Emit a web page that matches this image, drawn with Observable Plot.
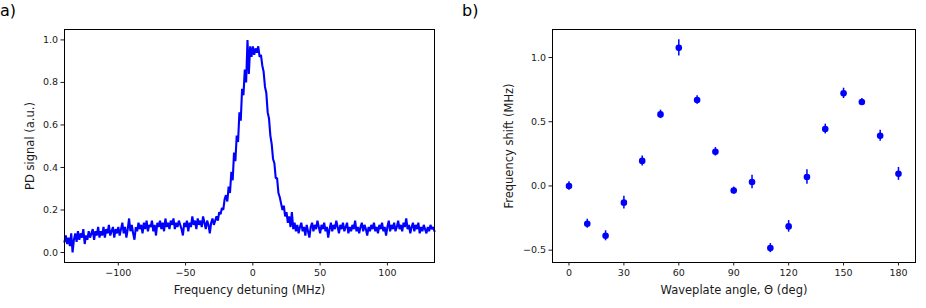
<!DOCTYPE html>
<html>
<head>
<meta charset="utf-8">
<script src="https://cdn.jsdelivr.net/npm/d3@7"></script>
<script src="https://cdn.jsdelivr.net/npm/@observablehq/plot@0.6"></script>
<style>
  html, body { margin: 0; padding: 0; background: #fff; }
  #wrap { position: relative; width: 926px; height: 308px; font-family: "DejaVu Sans", sans-serif; }
  .panel { position: absolute; top: 0; }
  .tag { position: absolute; font-size: 16px; line-height: 16px; color: #000; font-family: "DejaVu Sans", sans-serif; }
</style>
</head>
<body>
<div id="wrap">
  <div class="tag" style="left:0px; top:3px;">a)</div>
  <div class="tag" style="left:462px; top:3px;">b)</div>
  <div class="panel" id="pa" style="left:0px;"></div>
  <div class="panel" id="pb" style="left:463px;"></div>
</div>
<script>
// ---- Panel a): photodiode signal vs detuning (1 MHz steps from -140 to 135) ----
const detuningStart = -140;
const pdSignal = [
  0.05,0.08,0.04,0.07,0.03,0.09,0.00,0.06,0.09,0.05,
  0.10,0.06,0.09,0.07,0.11,0.04,0.08,0.06,0.10,0.07,
  0.09,0.11,0.06,0.10,0.08,0.12,0.07,0.10,0.08,0.12,
  0.07,0.11,0.09,0.13,0.08,0.10,0.12,0.07,0.11,0.09,
  0.12,0.08,0.11,0.14,0.09,0.12,0.07,0.11,0.16,0.10,
  0.13,0.09,0.06,0.12,0.10,0.14,0.11,0.13,0.09,0.14,
  0.11,0.15,0.10,0.13,0.12,0.15,0.10,0.13,0.08,0.14,
  0.12,0.15,0.11,0.14,0.10,0.16,0.12,0.14,0.11,0.15,
  0.13,0.16,0.11,0.14,0.12,0.15,0.13,0.11,0.08,0.14,
  0.12,0.15,0.10,0.14,0.12,0.17,0.13,0.15,0.11,0.16,
  0.13,0.15,0.12,0.17,0.14,0.11,0.15,0.13,0.09,0.14,
  0.16,0.13,0.15,0.17,0.15,0.19,0.18,0.21,0.20,0.25,
  0.27,0.24,0.31,0.28,0.38,0.34,0.47,0.43,0.55,0.52,
  0.66,0.62,0.77,0.74,0.86,0.80,1.00,0.84,0.97,0.92,
  0.97,0.93,0.96,0.94,0.97,0.92,0.93,0.88,0.85,0.78,
  0.75,0.66,0.63,0.55,0.51,0.44,0.42,0.35,0.35,0.28,
  0.26,0.23,0.20,0.22,0.17,0.19,0.14,0.17,0.12,0.19,
  0.11,0.14,0.10,0.13,0.09,0.12,0.14,0.10,0.12,0.08,
  0.13,0.10,0.07,0.12,0.14,0.10,0.13,0.11,0.15,0.12,
  0.09,0.13,0.11,0.14,0.10,0.12,0.07,0.11,0.14,0.10,
  0.13,0.11,0.15,0.12,0.09,0.13,0.11,0.14,0.10,0.12,
  0.14,0.09,0.12,0.10,0.13,0.11,0.15,0.10,0.12,0.09,
  0.12,0.14,0.10,0.13,0.11,0.08,0.12,0.10,0.13,0.11,
  0.14,0.10,0.12,0.09,0.13,0.11,0.14,0.10,0.12,0.08,
  0.12,0.15,0.10,0.13,0.11,0.14,0.10,0.12,0.15,0.11,
  0.13,0.10,0.14,0.12,0.16,0.11,0.13,0.09,0.12,0.14,
  0.10,0.13,0.11,0.14,0.09,0.12,0.10,0.13,0.11,0.09,
  0.12,0.10,0.13,0.11,0.12,0.10
];
const xTicksA = [-100, -50, 0, 50, 100];
const yTicksA = [0, 0.2, 0.4, 0.6, 0.8, 1.0];

// ---- Panel b): frequency shift vs waveplate angle ----
const angles = [0,10,20,30,40,50,60,70,80,90,100,110,120,130,140,150,160,170,180];
const shifts = [0.0,-0.294,-0.388,-0.13,0.195,0.557,1.075,0.669,0.266,-0.036,0.031,-0.484,-0.315,0.070,0.443,0.721,0.654,0.391,0.094];
const shiftErr = [0.033,0.035,0.039,0.05,0.039,0.033,0.0625,0.033,0.033,0.027,0.052,0.035,0.045,0.057,0.038,0.04,0.027,0.043,0.05];
const xTicksB = [0,30,60,90,120,150,180];
const yTicksB = [-0.5, 0.0, 0.5, 1.0];

const traceA = pdSignal.map((v, i) => ({f: detuningStart + i, s: v}));
const pointsB = angles.map((a, i) => ({a, v: shifts[i], lo: shifts[i] - shiftErr[i], hi: shifts[i] + shiftErr[i]}));

const fmt1 = d3.format(".1f");
const common = {fontSize: 9.5, tickSize: 3.5, tickPadding: 3, color: "#1a1a1a"};

const plotA = Plot.plot({
  width: 463, height: 308,
  marginLeft: 64, marginRight: 29, marginTop: 29, marginBottom: 46,
  style: {fontFamily: "DejaVu Sans, sans-serif", color: "#1a1a1a", background: "transparent", overflow: "visible"},
  x: {domain: [-140, 135]},
  y: {domain: [-0.047, 1.049]},
  marks: [
    Plot.line(traceA, {x: "f", y: "s", stroke: "#0000ff", strokeWidth: 2.1, strokeLinejoin: "miter"}),
    Plot.frame({stroke: "#000", strokeWidth: 1}),
    Plot.axisX({ticks: xTicksA, tickFormat: d3.format("d"), ...common, label: "Frequency detuning (MHz)", labelAnchor: "center", labelArrow: "none", labelOffset: 31.5}),
    Plot.axisY({ticks: yTicksA, tickFormat: fmt1, ...common, label: "PD signal (a.u.)", labelAnchor: "center", labelArrow: "none", labelOffset: 39})
  ]
});

const plotB = Plot.plot({
  width: 463, height: 308,
  marginLeft: 89, marginRight: 11, marginTop: 29, marginBottom: 46,
  style: {fontFamily: "DejaVu Sans, sans-serif", color: "#1a1a1a", background: "transparent", overflow: "visible"},
  x: {domain: [-9, 189.3]},
  y: {domain: [-0.596, 1.218]},
  marks: [
    Plot.ruleX(pointsB, {x: "a", y1: "lo", y2: "hi", stroke: "#0000ff", strokeWidth: 1.5}),
    Plot.dot(pointsB, {x: "a", y: "v", r: 3.3, fill: "#0000ff", stroke: "none"}),
    Plot.frame({stroke: "#000", strokeWidth: 1}),
    Plot.axisX({ticks: xTicksB, tickFormat: d3.format("d"), ...common, label: "Waveplate angle, Θ (deg)", labelAnchor: "center", labelArrow: "none", labelOffset: 31.5}),
    Plot.axisY({ticks: yTicksB, tickFormat: fmt1, ...common, label: "Frequency shift (MHz)", labelAnchor: "center", labelArrow: "none", labelOffset: 48})
  ]
});

// Axis titles larger than tick labels
for (const svg of [plotA, plotB]) {
  svg.querySelectorAll("g[aria-label='x-axis label'] text, g[aria-label='y-axis label'] text").forEach(t => t.setAttribute("font-size", "11.5"));
  svg.querySelectorAll("g[aria-label='x-axis label'], g[aria-label='y-axis label']").forEach(g => g.setAttribute("font-size", "11.5"));
}
document.getElementById("pa").appendChild(plotA);
document.getElementById("pb").appendChild(plotB);
</script>
</body>
</html>
